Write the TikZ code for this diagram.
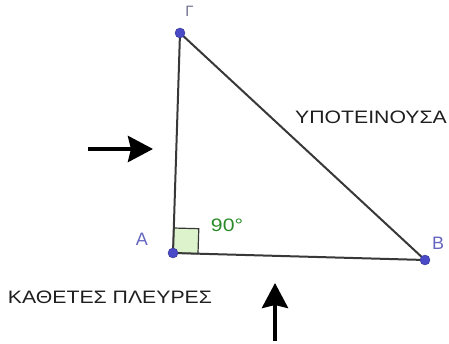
\documentclass[tikz,border=0pt]{standalone}
\usepackage{fontspec}
\setmainfont{Liberation Sans}
\usetikzlibrary{arrows.meta,calc}
\definecolor{ptblue}{HTML}{4A4AC8}
\definecolor{lblblue}{HTML}{6565C0}
\definecolor{anggreen}{HTML}{2A8A2A}
\definecolor{angfill}{HTML}{DDF3CC}
\newcommand{\wide}[1]{\scalebox{1.18}[1]{#1}}
\begin{document}
\begin{tikzpicture}[x=1pt,y=-1pt,every node/.style={font=\fontsize{18}{21}\selectfont,text=black!88,inner sep=0pt},pt/.style={circle,fill=ptblue,draw=ptblue!70!black,inner sep=0pt,minimum size=10pt},lbl/.style={text=lblblue},side/.style={draw=black!78,line width=2pt},bigarrow/.style={-{Stealth[length=25pt,width=26pt,inset=3pt]},line width=4pt}]
\useasboundingbox (0,0) rectangle (449,344);
\coordinate (A) at (173,253);\coordinate (B) at (425,260);\coordinate (G) at (180,33);
\coordinate (sqB) at ($(A)!25pt!(B)$);\coordinate (sqG) at ($(A)!25pt!(G)$);
\draw[fill=angfill,draw=black!78,line width=1.2pt] (A)--(sqB)--($(sqB)+(sqG)-(A)$)--(sqG)--cycle;
\draw[side] (A)--(B)--(G)--cycle;
\node[pt] (pA) at (A){};\node[pt] (pB) at (B){};\node[pt] (pG) at (G){};
\node[lbl] (lA) at (142,239){A};\node[lbl] (lB) at (438,243){B};\node[text=black!50!lblblue!70,font=\fontsize{15}{17}\selectfont] (lG) at (189.5,11){Γ};
\node[text=anggreen] (ang) at (227,225){\wide{90°}};
\node (hyp) at (371,117){\wide{ΥΠΟΤΕΙΝΟΥΣΑ}};
\node (leg) at (110,297){\wide{ΚΑΘΕΤΕΣ ΠΛΕΥΡΕΣ}};
\coordinate (l1) at (88,149);\coordinate (l2) at (153,149);\draw[bigarrow] (l1)--(l2);
\coordinate (b1) at (275,341);\coordinate (b2) at (275,283);\draw[bigarrow] (b1)--(b2);
\end{tikzpicture}
\end{document}
